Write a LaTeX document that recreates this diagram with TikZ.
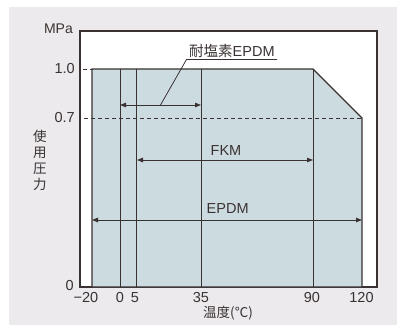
\documentclass[tikz,border=0pt]{standalone}
\usepackage{fontspec}
\setmainfont{Liberation Sans}
\newfontfamily\jp{Noto Sans CJK JP}
\usetikzlibrary{arrows.meta}
\definecolor{bg}{HTML}{ECEAED}
\definecolor{fillc}{HTML}{CCDBE0}
\definecolor{ink}{HTML}{3A3232}
\tikzset{
  frameline/.style={draw=ink, line width=1.1pt},
  gridline/.style={draw=ink, line width=1pt},
  rangearrow/.style={draw=ink, line width=1pt, {Triangle[length=6pt,width=4.5pt]}-{Triangle[length=6pt,width=4.5pt]}},
  axlabel/.style={inner sep=0pt, text=ink, font=\fontsize{14}{16}\selectfont},
  ticklabel/.style={inner sep=0pt, text=ink, font=\fontsize{14.5}{16}\selectfont},
  rlabel/.style={inner sep=0pt, text=ink, font=\fontsize{14.5}{17}\selectfont},
}
\begin{document}
\begin{tikzpicture}[x=1pt,y=-1pt]
\useasboundingbox (0,0) rectangle (397,325);
\fill[bg] (9,7) rectangle (397,325);
% frame
\draw[frameline, fill=white] (80,31) rectangle (377,287);
% region
\draw[frameline, fill=fillc] (92,287) -- (92,69) -- (313,69) -- (362,118) -- (362,287) -- cycle;
% grid verticals
\coordinate (t0) at (120,69); \coordinate (b0) at (120,287);
\coordinate (t5) at (136,69); \coordinate (b5) at (136,287);
\coordinate (t35) at (201,69); \coordinate (b35) at (201,287);
\coordinate (t90) at (313,69); \coordinate (b90) at (313,287);
\draw[gridline] (t0) -- (b0) (t5) -- (b5) (t35) -- (b35) (t90) -- (b90);
% dashed
\coordinate (d1a) at (83,69); \coordinate (d1b) at (92,69);
\coordinate (d7a) at (84,118); \coordinate (d7b) at (362,118);
\draw[ink, line width=1pt, dash pattern=on 4pt off 3pt] (d1a) -- (d1b);
\draw[ink, line width=1pt, dash pattern=on 4pt off 3pt] (d7a) -- (d7b);
% arrows
\coordinate (ca) at (120,105); \coordinate (cb) at (201,105);
\coordinate (fa) at (137,160); \coordinate (fb) at (313,160);
\coordinate (ea) at (92,220); \coordinate (eb) at (362,220);
\draw[rangearrow] (ca) -- (cb);
\draw[rangearrow] (fa) -- (fb);
\draw[rangearrow] (ea) -- (eb);
% leader
\coordinate (ul1) at (186.5,59.5); \coordinate (ul2) at (277,59.5);
\coordinate (lp) at (160.5,105);
\draw[ink, line width=0.8pt] (ul2) -- (ul1) -- (lp);
\node[rlabel, anchor=base west] (cl) at (189,56.5) {{\jp 耐塩素}EPDM};
\node[rlabel, anchor=west] (fkm) at (210.5,151) {FKM};
\node[rlabel, anchor=west] (epdm) at (206.5,209) {EPDM};
% axis labels
\node[axlabel, anchor=east] (mpa) at (73,29) {MPa};
\node[ticklabel, anchor=east] (y10) at (75,69) {1.0};
\node[ticklabel, anchor=east] (y07) at (75,118) {0.7};
\node[ticklabel, anchor=east] (y0) at (74,286) {0};
\node[axlabel, align=center, font=\jp\fontsize{13.5}{16}\selectfont] (ylab) at (40,160) {使\\用\\圧\\力};
\node[ticklabel] (xm20) at (86,298) {−20};
\node[ticklabel] (x0) at (120,298) {0};
\node[ticklabel] (x5) at (135,298) {5};
\node[ticklabel] (x35) at (201,298) {35};
\node[ticklabel] (x90) at (312,298) {90};
\node[ticklabel] (x120) at (361.5,298) {120};
\node[axlabel, font=\jp\fontsize{13.5}{15}\selectfont] (xlab) at (228,313.5) {温度(℃)};
\end{tikzpicture}
\end{document}
